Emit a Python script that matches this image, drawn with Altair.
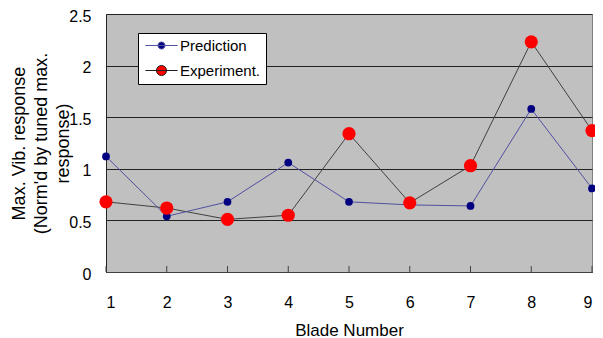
import altair as alt
import pandas as pd

blades = [1, 2, 3, 4, 5, 6, 7, 8, 9]
prediction = [1.12, 0.54, 0.68, 1.06, 0.68, 0.65, 0.64, 1.58, 0.81]
experiment = [0.68, 0.62, 0.51, 0.55, 1.34, 0.67, 1.03, 2.23, 1.37]
series_names = ["Prediction", "Experiment."]
y_ticks = [0, 0.5, 1, 1.5, 2, 2.5]

rows = []
for b, p, e in zip(blades, prediction, experiment):
    rows.append({"blade": b, "value": p, "series": series_names[0]})
    rows.append({"blade": b, "value": e, "series": series_names[1]})
df = pd.DataFrame(rows)
dticks = pd.DataFrame({"blade": blades})

W, H = 486, 258
FONT = "Liberation Sans"

# legend symbol: horizontal line with a dot (units of half the symbol width = 7px)
path_pred = "M-2.3,0L2.3,0M-0.5,0A0.5,0.5 0 1,0 0.5,0A0.5,0.5 0 1,0 -0.5,0Z"
path_exp = "M-2.3,0L2.3,0M-0.72,0A0.72,0.72 0 1,0 0.72,0A0.72,0.72 0 1,0 -0.72,0Z"

xscale = alt.Scale(domain=[1, 9], nice=False, zero=False)
yscale = alt.Scale(domain=[0, 2.5], nice=False)

xenc = alt.X("blade:Q", scale=xscale,
             axis=alt.Axis(values=blades, title="Blade Number", grid=False, ticks=False,
                           labelPadding=22, labelFontSize=16, titleFontSize=17,
                           titleFontWeight="normal", titlePadding=12, format="d",
                           domainColor="#404040", labelColor="black", titleColor="black",
                           labelFont=FONT, titleFont=FONT))
yenc = alt.Y("value:Q", scale=yscale,
             axis=alt.Axis(values=y_ticks, title=["Max. Vib. response", "(Norm'd by tuned max.", "response)"],
                           grid=True, gridColor="#222222", gridWidth=1, ticks=False,
                           labelPadding=15, labelFontSize=16, labelOffset=2, titleFontSize=18,
                           titleFontWeight="normal", titleLineHeight=22, titlePadding=-4,
                           format="~g", domainColor="#222222", labelColor="black",
                           titleColor="black", labelFont=FONT, titleFont=FONT))

def series_df(name):
    return alt.Chart(df).transform_filter(alt.datum.series == name)

line_pred = series_df(series_names[0]).mark_line(color="#5050a0", strokeWidth=1).encode(x=xenc, y=yenc)
line_exp = series_df(series_names[1]).mark_line(color="#404040", strokeWidth=1).encode(x=xenc, y=yenc)
pts_pred = series_df(series_names[0]).mark_circle(color="#000080", size=60, opacity=1).encode(x=xenc, y=yenc)
pts_exp = series_df(series_names[1]).mark_circle(color="#ff0000", size=175, opacity=1).encode(x=xenc, y=yenc)

leg = alt.Legend(title=None, orient="none", legendX=32, legendY=19,
                 fillColor="white", strokeColor="black", padding=5,
                 rowPadding=9, labelFontSize=15, labelFont=FONT,
                 labelColor="black", symbolSize=196, symbolStrokeWidth=1,
                 symbolOpacity=1, symbolOffset=11, labelOffset=11)
legend_layer = alt.Chart(df).transform_filter("false").mark_point(filled=True, size=196).encode(
    x=xenc, y=yenc,
    fill=alt.Fill("series:N", scale=alt.Scale(domain=series_names, range=["#000080", "#ff0000"]), legend=leg),
    stroke=alt.Stroke("series:N", scale=alt.Scale(domain=series_names, range=["#5050a0", "#202020"]), legend=leg),
    shape=alt.Shape("series:N", scale=alt.Scale(domain=series_names, range=[path_pred, path_exp]), legend=leg),
)

ticks = alt.Chart(dticks).mark_rule(color="#404040", strokeWidth=1).encode(
    x=alt.X("blade:Q", scale=xscale), y=alt.value(H), y2=alt.value(H - 6))

chart = alt.layer(ticks, line_exp, line_pred, pts_pred, pts_exp, legend_layer).properties(
    width=W, height=H,
    autosize=alt.AutoSizeParams(type="none"),
    padding={"left": 98, "top": 6, "right": 3, "bottom": 66},
    background="white",
).configure_view(fill="#c0c0c0", stroke="#808080", strokeWidth=1)

chart.save("out.html", embed_options={"renderer": "svg", "actions": False})
